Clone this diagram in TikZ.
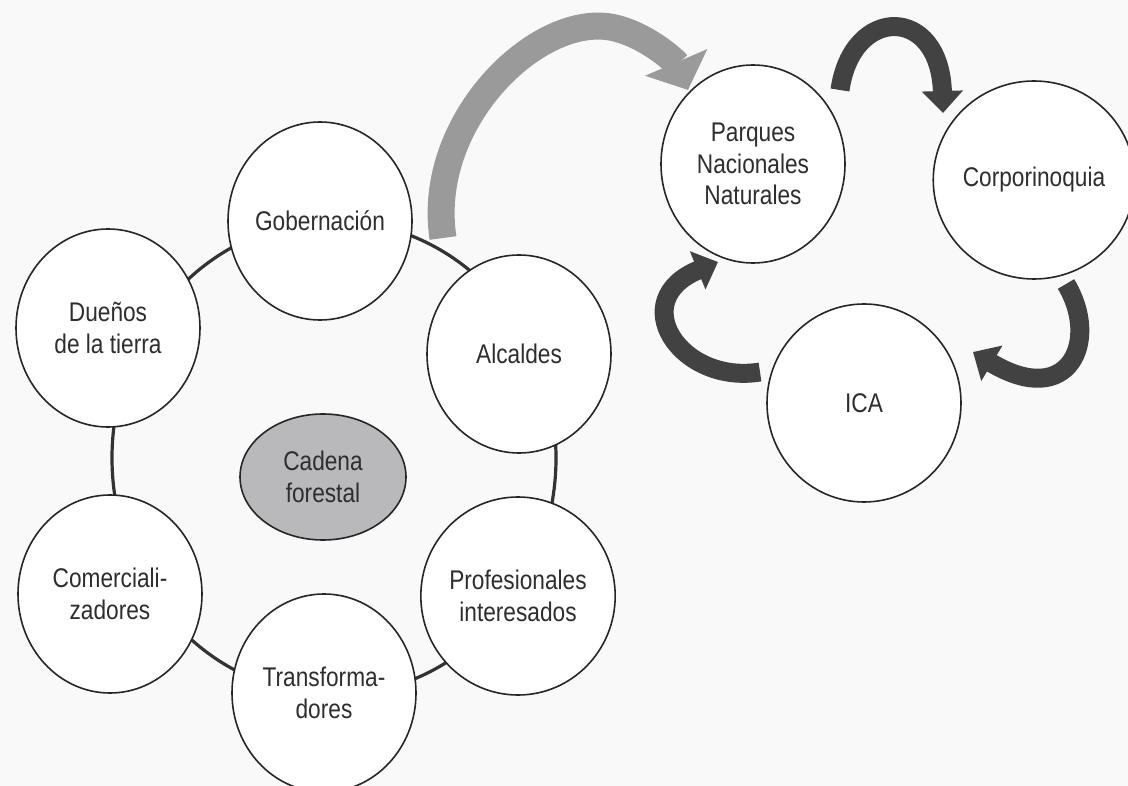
\documentclass[tikz,border=0pt]{standalone}
\usepackage{fontspec}
\setmainfont{Liberation Sans}[FakeStretch=0.84]
\usetikzlibrary{shapes.geometric,arrows.meta}
\definecolor{bg}{HTML}{F9F9F9}
\definecolor{txt}{HTML}{2E2E2E}
\definecolor{edge}{HTML}{262626}
\definecolor{ringc}{HTML}{333333}
\definecolor{cadc}{HTML}{B9B9BB}
\definecolor{bigarr}{HTML}{9A9A9A}
\definecolor{darr}{HTML}{424242}
\begin{document}
\begin{tikzpicture}[x=1pt,y=-1pt,
  actor/.style={ellipse,draw=edge,line width=1.6pt,fill=white,
    minimum width=184pt,minimum height=198pt,inner sep=0pt,align=center,
    text=txt,font=\fontsize{27pt}{31.5pt}\selectfont},
  core/.style={actor,fill=cadc,minimum width=166pt,minimum height=126pt},
  ringline/.style={draw=ringc,line width=3.2pt},
  bigarrow/.style={draw=bigarr,line width=27pt,
    -{Triangle[width=66pt,length=30pt]}},
  smallarrow/.style={draw=darr,line width=19pt,
    -{Triangle[width=40pt,length=22pt]}}]
\useasboundingbox (0,0) rectangle (1128,786);
\fill[bg] (0,0) rectangle (1128,786);
% ring behind the circles
\coordinate (ringc) at (334,458);
\draw[ringline] (ringc) ellipse [x radius=222pt, y radius=237pt];
% left group
\node[actor] (gob) at (320,221) {Gobernación};
\node[actor] (alc) at (519,354) {Alcaldes};
\node[actor] (prof) at (518,596) {Profesionales\\interesados};
\node[actor] (trans) at (324,693) {Transforma-\\dores};
\node[actor] (com) at (110,594) {Comerciali-\\zadores};
\node[actor] (due) at (108,328) {Dueños\\de la tierra};
\node[core] (cad) at (323,477) {Cadena\\forestal};
% right group
\node[actor] (par) at (753,164) {Parques\\Nacionales\\Naturales};
\node[actor] (cor) at (1034,180) {Corporinoquia};
\node[actor,minimum width=194pt] (ica) at (864,403) {ICA};
% arrow end points
\coordinate (g1) at (443,238);
\coordinate (g2) at (688,90);
\coordinate (t1) at (840,90);
\coordinate (t2) at (943,113);
\coordinate (r1) at (1066,284);
\coordinate (r2) at (973,352);
\coordinate (l1) at (760,372);
\coordinate (l2) at (718,262);
% arrows
\draw[bigarrow] (g1) .. controls (425,120) and (540,10) .. (615,28)
  .. controls (648,36) and (676,62) .. (g2);
\draw[smallarrow] (t1) .. controls (852,5) and (940,5) .. (t2);
\draw[smallarrow] (r1) .. controls (1100,340) and (1070,410) .. (r2);
\draw[smallarrow] (l1) .. controls (680,385) and (625,300) .. (l2);
\end{tikzpicture}
\end{document}
